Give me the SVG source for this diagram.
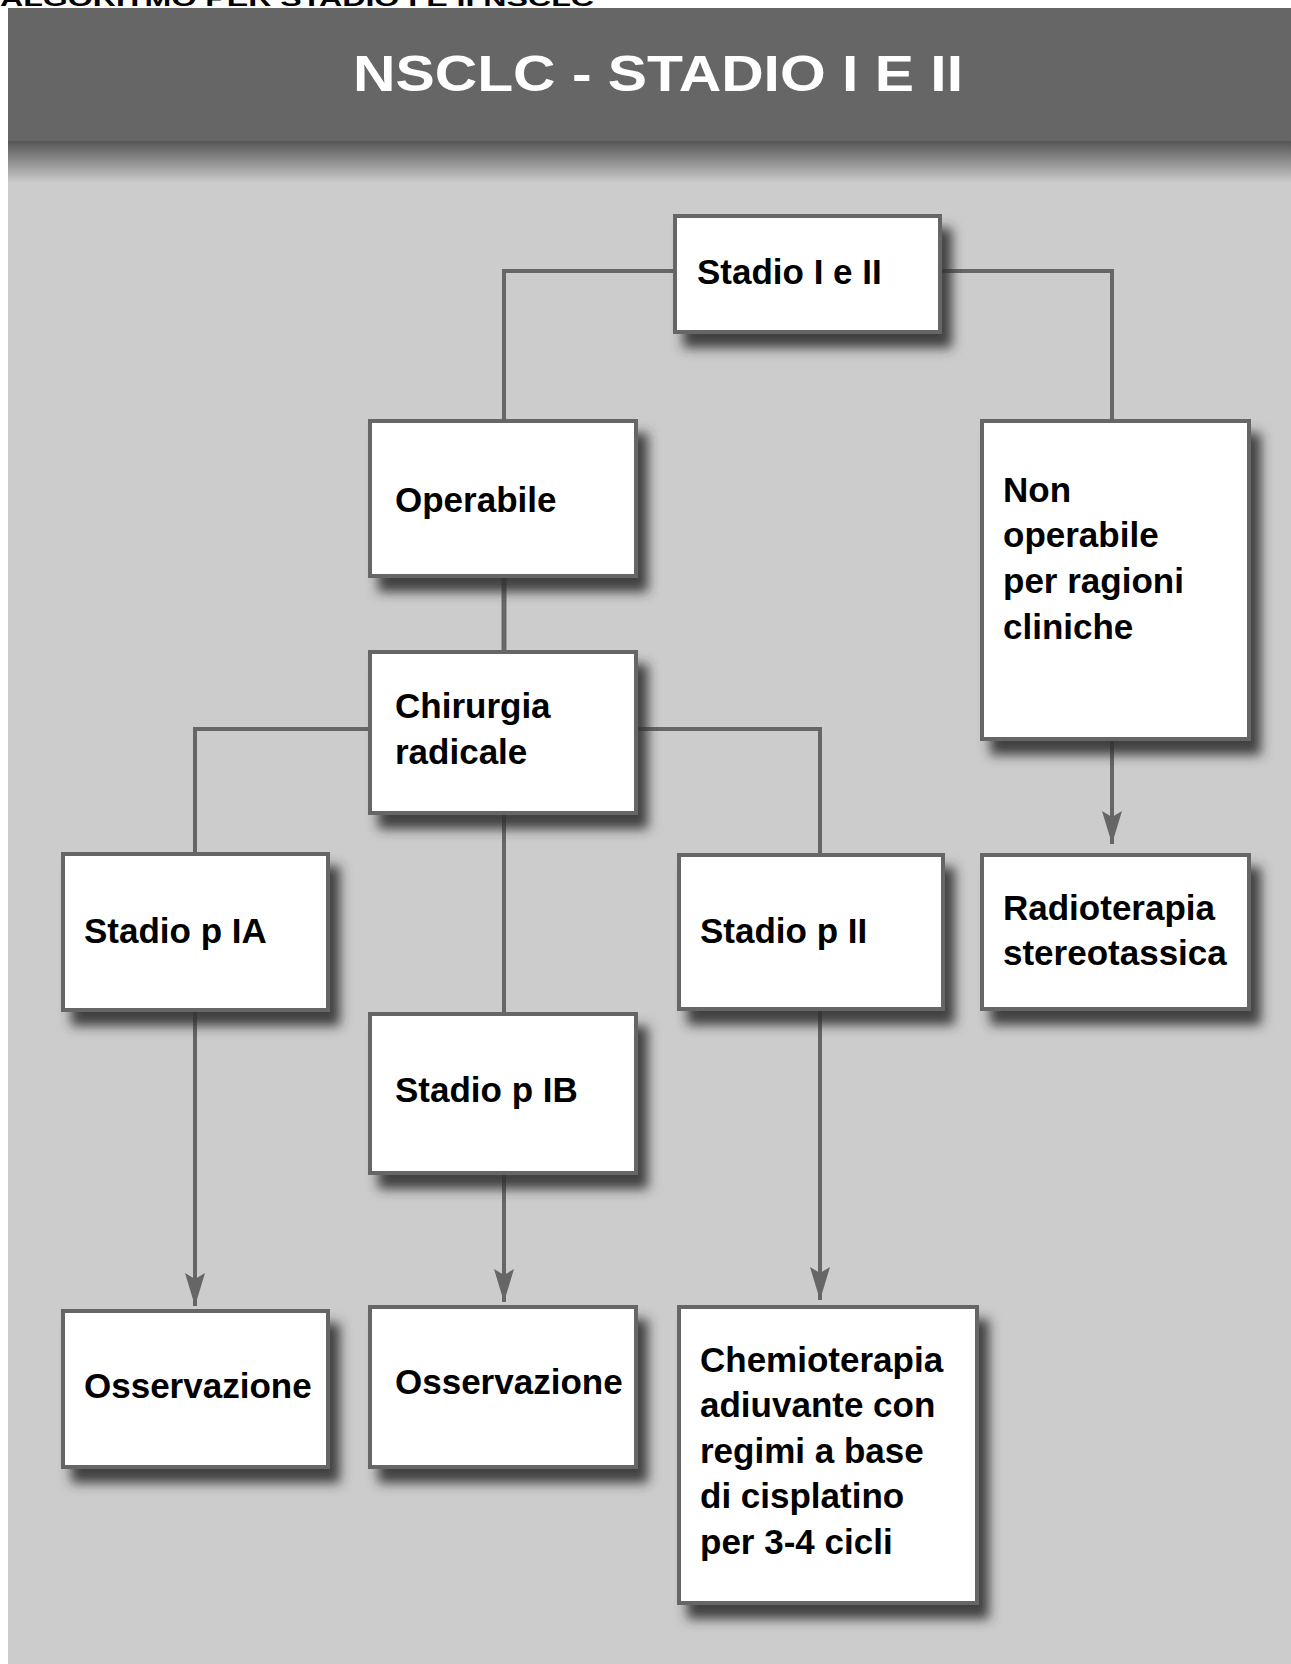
<svg xmlns="http://www.w3.org/2000/svg" width="1291" height="1664" viewBox="0 0 1291 1664">
<style>
.box{fill:#ffffff;stroke:#666666;stroke-width:4;filter:url(#sh)}
.t{font-family:"Liberation Sans",Arial,sans-serif;font-weight:bold;font-size:35px;fill:#000000}
.con{fill:none;stroke:#666666;stroke-width:4}
.thick{stroke-width:5}
</style>
<defs>
<filter id="sh" x="-10%" y="-10%" width="135%" height="145%">
<feDropShadow dx="10" dy="14" stdDeviation="6" flood-color="#333333" flood-opacity="0.9"/>
</filter>
<linearGradient id="hs" x1="0" y1="0" x2="0" y2="1">
<stop offset="0" stop-color="#555555"/>
<stop offset="1" stop-color="#cccccc"/>
</linearGradient>
<marker id="arr" markerUnits="userSpaceOnUse" markerWidth="37" markerHeight="22" viewBox="-35 -11 37 22" refX="0" refY="0" orient="auto">
<path d="M0,0 L-33,-10 L-27,0 L-33,10 Z" fill="#666666"/>
</marker>
</defs>
<rect x="0" y="0" width="1291" height="1664" fill="#ffffff"/>
<text x="0" y="6" font-family="Liberation Sans,Arial,sans-serif" font-weight="bold" font-size="22" textLength="594" lengthAdjust="spacingAndGlyphs" fill="#000000">ALGORITMO PER STADIO I E II NSCLC</text>
<g id="panel">
<rect x="8" y="8" width="1283" height="1656" fill="#cccccc"/>
<rect x="8" y="141" width="1283" height="42" fill="url(#hs)"/>
<rect x="8" y="8" width="1283" height="133" fill="#666666"/>
<text x="353" y="91" font-family="Liberation Sans,Arial,sans-serif" font-weight="bold" font-size="50" textLength="610" lengthAdjust="spacingAndGlyphs" fill="#ffffff">NSCLC - STADIO I E II</text>
</g>
<g id="connectors">
<path class="con" d="M675,271 H504 V421"/>
<path class="con" d="M940,271 H1112 V421"/>
<path class="con thick" d="M504,576 V652"/>
<path class="con" d="M370,729 H195 V854"/>
<path class="con" d="M636,729 H820 V855"/>
<path class="con" d="M504,813 V1014"/>
<path class="con" d="M1112,739 V844" marker-end="url(#arr)"/>
<path class="con" d="M195,1010 V1306" marker-end="url(#arr)"/>
<path class="con" d="M504,1173 V1302" marker-end="url(#arr)"/>
<path class="con" d="M820,1009 V1300" marker-end="url(#arr)"/>
</g>
<g id="n-stadio">
<rect class="box" x="675" y="216" width="265" height="116"/>
<text class="t" x="697" y="284">Stadio I e II</text>
</g>
<g id="n-operabile">
<rect class="box" x="370" y="421" width="266" height="155"/>
<text class="t" x="395" y="512">Operabile</text>
</g>
<g id="n-nonoperabile">
<rect class="box" x="982" y="421" width="267" height="318"/>
<text class="t" x="1003" y="502">Non</text>
<text class="t" x="1003" y="547">operabile</text>
<text class="t" x="1003" y="593">per ragioni</text>
<text class="t" x="1003" y="639">cliniche</text>
</g>
<g id="n-chirurgia">
<rect class="box" x="370" y="652" width="266" height="161"/>
<text class="t" x="395" y="718">Chirurgia</text>
<text class="t" x="395" y="764">radicale</text>
</g>
<g id="n-pia">
<rect class="box" x="63" y="854" width="265" height="156"/>
<text class="t" x="84" y="943">Stadio p IA</text>
</g>
<g id="n-pii">
<rect class="box" x="679" y="855" width="264" height="154"/>
<text class="t" x="700" y="943">Stadio p II</text>
</g>
<g id="n-radio">
<rect class="box" x="982" y="855" width="267" height="154"/>
<text class="t" x="1003" y="920">Radioterapia</text>
<text class="t" x="1003" y="965">stereotassica</text>
</g>
<g id="n-pib">
<rect class="box" x="370" y="1014" width="266" height="159"/>
<text class="t" x="395" y="1102">Stadio p IB</text>
</g>
<g id="n-oss1">
<rect class="box" x="63" y="1311" width="265" height="156"/>
<text class="t" x="84" y="1398">Osservazione</text>
</g>
<g id="n-oss2">
<rect class="box" x="370" y="1307" width="266" height="160"/>
<text class="t" x="395" y="1394">Osservazione</text>
</g>
<g id="n-chemio">
<rect class="box" x="679" y="1307" width="298" height="296"/>
<text class="t" x="700" y="1372">Chemioterapia</text>
<text class="t" x="700" y="1417">adiuvante con</text>
<text class="t" x="700" y="1463">regimi a base</text>
<text class="t" x="700" y="1508">di cisplatino</text>
<text class="t" x="700" y="1554">per 3-4 cicli</text>
</g>
</svg>
